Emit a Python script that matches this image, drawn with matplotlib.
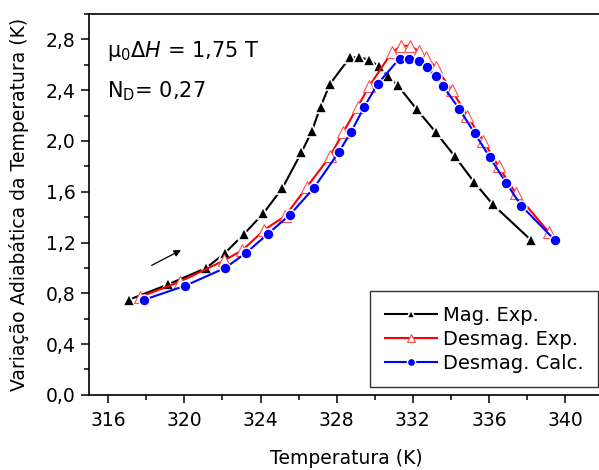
import numpy as np
import matplotlib
matplotlib.use("Agg")
import matplotlib.pyplot as plt
from matplotlib.ticker import MultipleLocator, FuncFormatter

# Mag. Exp. (black filled triangles)
mag_T = [317.1, 319.15, 321.15, 322.15, 323.15, 324.15, 325.15, 326.15, 326.7,
         327.15, 327.65, 328.7, 329.15, 329.7, 330.2, 330.7, 331.2, 332.2,
         333.2, 334.2, 335.2, 336.2, 338.2]
mag_V = [0.75, 0.87, 1.00, 1.12, 1.27, 1.43, 1.63, 1.91, 2.08,
         2.27, 2.45, 2.66, 2.66, 2.64, 2.59, 2.51, 2.44, 2.25,
         2.07, 1.88, 1.68, 1.50, 1.22]

# Desmag. Exp. (red open triangles)
des_T = [317.65, 319.75, 322.1, 323.05, 324.2, 325.3, 326.45, 327.65, 328.35,
         329.1, 329.7, 330.9, 331.4, 331.85, 332.3, 332.7, 333.2, 334.05,
         334.85, 335.7, 336.5, 337.4, 339.15]
des_V = [0.77, 0.89, 1.06, 1.14, 1.30, 1.41, 1.64, 1.88, 2.07,
         2.27, 2.43, 2.70, 2.75, 2.75, 2.71, 2.66, 2.58, 2.40,
         2.20, 2.00, 1.80, 1.59, 1.28]

# Desmag. Calc. (blue circles)
calc_T = [317.9, 320.05, 322.15, 323.25, 324.4, 325.55, 326.8, 328.1, 328.75,
          329.45, 330.15, 331.3, 331.8, 332.3, 332.75, 333.2, 333.6, 334.45,
          335.25, 336.05, 336.9, 337.7, 339.45]
calc_V = [0.75, 0.86, 1.00, 1.12, 1.27, 1.42, 1.63, 1.91, 2.07,
          2.27, 2.45, 2.65, 2.65, 2.63, 2.58, 2.51, 2.43, 2.25,
          2.06, 1.87, 1.67, 1.49, 1.22]

labels = ["Mag. Exp.", "Desmag. Exp.", "Desmag. Calc."]

plt.rcParams['font.family'] = ['DejaVu Sans']

fig = plt.figure(figsize=(5.99, 4.70), dpi=100)
ax = fig.add_axes([0.149, 0.160, 0.858, 0.810])

ax.plot(mag_T, mag_V, color='black', lw=1.5, marker='^', ms=8,
        mfc='black', mec='white', mew=1.2, label=labels[0], zorder=3)
ax.plot(des_T, des_V, color='red', lw=1.5, marker='^', ms=8,
        mfc='white', mec='#ff5050', mew=0.8, label=labels[1], zorder=4)
ax.plot(calc_T, calc_V, color='blue', lw=1.5, marker='o', ms=7.8,
        mfc='blue', mec='white', mew=1.0, label=labels[2], zorder=5)

# arrow showing direction of magnetization
ax.annotate('', xy=(319.95, 1.15), xytext=(318.15, 1.01),
            arrowprops=dict(arrowstyle='-|>', color='black', lw=0.9,
                            mutation_scale=10))

ax.set_xlim(315, 342)
ax.set_ylim(0, 3.0)
ax.xaxis.set_major_locator(MultipleLocator(4))
ax.xaxis.set_minor_locator(MultipleLocator(2))
ax.yaxis.set_major_locator(MultipleLocator(0.4))
ax.yaxis.set_minor_locator(MultipleLocator(0.2))
ax.yaxis.set_major_formatter(FuncFormatter(lambda v, p: ('%.1f' % v).replace('.', ',')))
ax.xaxis.set_major_formatter(FuncFormatter(lambda v, p: '%d' % v))

ax.tick_params(which='major', direction='out', length=6, width=1.1,
               labelsize=13.5, pad=4)
ax.tick_params(axis='x', which='major', pad=6)
ax.tick_params(which='minor', direction='out', length=3.5, width=1.1)
for s in ax.spines.values():
    s.set_linewidth(1.2)

ax.set_xlabel('Temperatura (K)', fontsize=13.5, labelpad=13)
ax.set_ylabel('Variação Adiabática da Temperatura (K)', fontsize=13.5, labelpad=12)

ax.text(0.034, 0.887, 'μ$_0$Δ$H$ = 1,75 T', transform=ax.transAxes,
        fontsize=15, va='baseline')
ax.text(0.034, 0.782, 'N$_\\mathregular{D}$= 0,27', transform=ax.transAxes,
        fontsize=15, va='baseline')

leg = ax.legend(loc='lower right', bbox_to_anchor=(0.99, 0.02), fontsize=14,
                fancybox=False, edgecolor='#333333', framealpha=1,
                handlelength=2.7, handletextpad=0.3, labelspacing=0.25,
                borderpad=0.75, borderaxespad=0, markerscale=0.75)
leg.get_frame().set_linewidth(1.0)

fig.savefig('out.png', dpi=100)
